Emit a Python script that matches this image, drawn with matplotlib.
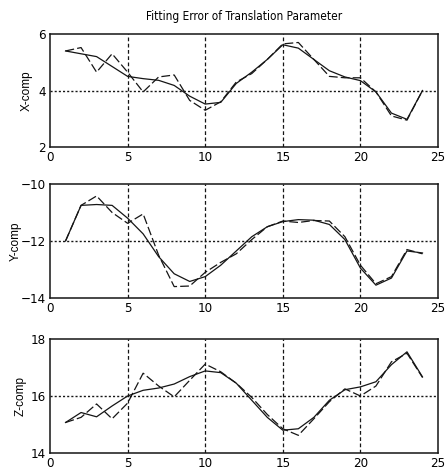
import matplotlib
matplotlib.use("Agg")
import matplotlib.pyplot as plt
from matplotlib import font_manager

t = list(range(1, 25))

x_fit = [5.40, 5.30, 5.20, 4.85, 4.50, 4.42, 4.36, 4.18, 3.80, 3.52, 3.58, 4.25,
         4.65, 5.10, 5.62, 5.50, 5.10, 4.70, 4.48, 4.35, 3.95, 3.20, 2.98, 4.00]
x_meas = [5.40, 5.52, 4.65, 5.30, 4.65, 3.95, 4.48, 4.55, 3.65, 3.30, 3.60, 4.30,
          4.60, 5.10, 5.65, 5.70, 5.10, 4.50, 4.45, 4.45, 3.95, 3.10, 2.95, 4.00]

y_fit = [-12.0, -10.75, -10.72, -10.75, -11.2, -11.75, -12.55, -13.15, -13.42, -13.25,
         -12.85, -12.35, -11.85, -11.5, -11.32, -11.25, -11.27, -11.42, -11.95, -12.95,
         -13.55, -13.3, -12.35, -12.42]
y_meas = [-12.0, -10.75, -10.42, -11.0, -11.38, -11.05, -12.5, -13.6, -13.58, -13.1,
          -12.75, -12.45, -11.95, -11.5, -11.3, -11.35, -11.28, -11.3, -11.85, -12.85,
          -13.5, -13.25, -12.3, -12.45]

z_fit = [15.07, 15.42, 15.27, 15.65, 16.0, 16.2, 16.28, 16.42, 16.68, 16.88, 16.82, 16.45,
         15.85, 15.25, 14.8, 14.85, 15.25, 15.85, 16.22, 16.32, 16.5, 17.1, 17.55, 16.67]
z_meas = [15.07, 15.25, 15.72, 15.2, 15.75, 16.8, 16.35, 15.97, 16.55, 17.12, 16.85, 16.45,
          15.95, 15.35, 14.85, 14.62, 15.2, 15.8, 16.25, 16.0, 16.35, 17.2, 17.5, 16.65]

title = "Fitting Error of Translation Parameter"
ylabels = ["X-comp", "Y-comp", "Z-comp"]
ylims = [(2, 6), (-14, -10), (14, 18)]
yticks = [[2, 4, 6], [-14, -12, -10], [14, 16, 18]]
xticks = [0, 5, 10, 15, 20, 25]
xgrid = [5, 10, 15, 20]

names = {f.name for f in font_manager.fontManager.ttflist}
if "Liberation Sans Narrow" in names:
    narrow = dict(family=["Liberation Sans Narrow", "DejaVu Sans"])
else:
    narrow = dict(family=["DejaVu Sans"], stretch="condensed")

fig = plt.figure(figsize=(4.47, 4.73), dpi=100)
positions = [
    [0.1119, 0.6892, 0.868, 0.2389],
    [0.1119, 0.3700, 0.868, 0.2410],
    [0.1119, 0.0423, 0.868, 0.2410],
]
label_x = [-0.044, -0.072, -0.060]
fits = [x_fit, y_fit, z_fit]
meas = [x_meas, y_meas, z_meas]
ink = "#151515"

for i in range(3):
    ax = fig.add_axes(positions[i])
    lo, hi = ylims[i]
    mid = (lo + hi) / 2
    for g in xgrid:
        ax.axvline(g, color=ink, lw=0.9, ls=(0, (3, 2)), zorder=1)
    ax.axhline(mid, color=ink, lw=1.0, ls=(0, (1.5, 1.5)), zorder=1)
    ax.plot(t, fits[i], color=ink, lw=0.9, zorder=3)
    ax.plot(t, meas[i], color=ink, lw=0.9, ls=(0, (7, 2.5)), zorder=3)
    ax.set_xlim(0, 25)
    ax.set_ylim(lo, hi)
    ax.set_xticks(xticks)
    ax.set_yticks(yticks[i])
    ax.tick_params(direction="in", length=0, pad=3)
    for lab in ax.get_xticklabels() + ax.get_yticklabels():
        lab.set(fontsize=9.5, **narrow)
    ax.set_ylabel(ylabels[i], fontsize=8.5, family=["Liberation Sans", "DejaVu Sans"])
    ax.yaxis.set_label_coords(label_x[i], 0.5)
    for s in ax.spines.values():
        s.set_color(ink)
        s.set_linewidth(1.1)
    if i == 0:
        ax.set_title(title, fontsize=8.5, pad=10, **narrow)

fig.savefig("out.png", dpi=100)
